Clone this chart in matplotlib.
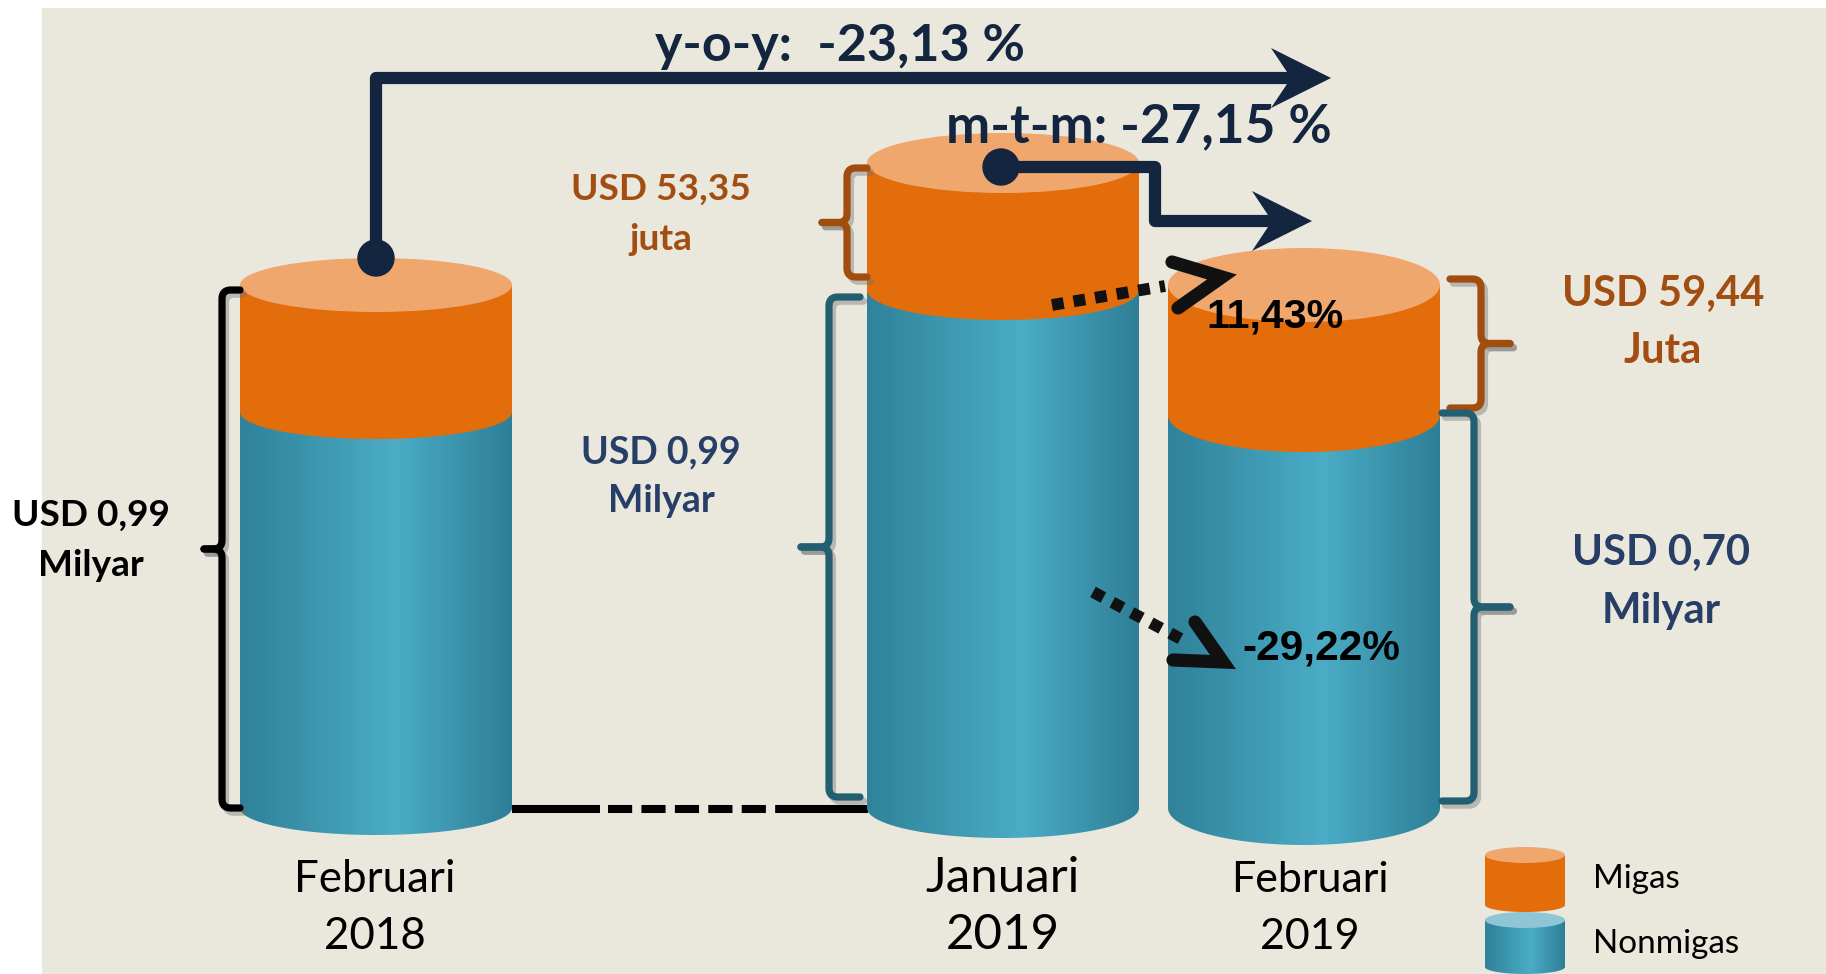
import numpy as np
import matplotlib
matplotlib.use('Agg')
import matplotlib.pyplot as plt
import matplotlib.patheffects as pe
from matplotlib.patches import Rectangle, Ellipse, Polygon, Circle
from matplotlib.colors import LinearSegmentedColormap

# data (labels as printed, heights as drawn in the picture)
months = ['Februari', 'Januari', 'Februari']
years = ['2018', '2019', '2019']
nonmigas_h = [396, 518, 393]
migas_h = [127, 127, 130]
migas_lbl = [None, ['USD 53,35', 'juta'], ['USD 59,44', 'Juta']]
nonmigas_lbl = [['USD 0,99', 'Milyar'], ['USD 0,99', 'Milyar'], ['USD 0,70', 'Milyar']]
yoy_txt = 'y-o-y:  -23,13 %'
mtm_txt = 'm-t-m: -27,15 %'
chg_migas = '11,43%'
chg_nonmigas = '-29,22%'
legend_lbl = ['Migas', 'Nonmigas']

BG = '#EAE7DD'
ORANGE = '#E36C0B'
ORANGE_LT = '#EFA76D'
TEAL_LT = '#8EC6D6'
NAVY = '#13253F'
BROWN = '#A04D0E'
BROWN_TXT = '#A24E12'
NAVY_TXT = '#273F66'
TEAL_BR = '#245F71'

teal_cmap = LinearSegmentedColormap.from_list(
    'teal', [(0, '#2F8299'), (0.57, '#4BACC6'), (1, '#2E7F96')])
grad = np.linspace(0, 1, 256).reshape(1, -1)

fig = plt.figure(figsize=(18.26, 9.74), dpi=100, facecolor='white')
ax = fig.add_axes([0, 0, 1, 1])
ax.set_xlim(0, 1826)
ax.set_ylim(974, 0)
ax.set_autoscale_on(False)
ax.axis('off')
rend = fig.canvas.get_renderer()

ax.add_patch(Rectangle((42, 8), 1784, 966, facecolor=BG, edgecolor='none', zorder=0))


def side(cx, a, ytop, ybot, b):
    t = np.linspace(np.pi, 0, 80)
    xs = np.concatenate([[cx - a], cx + a * np.cos(t), [cx + a]])
    ys = np.concatenate([[ytop], ybot + b * np.sin(t), [ytop]])
    return np.column_stack([xs, ys])


def teal_seg(cx, a, ytop, ybot, b, z=2):
    p = Polygon(side(cx, a, ytop, ybot, b), closed=True, facecolor='none',
                edgecolor='none', zorder=z)
    ax.add_patch(p)
    im = ax.imshow(grad, cmap=teal_cmap, extent=[cx - a, cx + a, ybot + b, ytop],
                   aspect='auto', interpolation='bilinear', zorder=z)
    im.set_clip_path(p)


def orange_seg(cx, a, ytop, ybot, b, z=3):
    ax.add_patch(Polygon(side(cx, a, ytop, ybot, b), closed=True,
                         facecolor=ORANGE, edgecolor='none', zorder=z))


# cylinders
cx = [376, 1003, 1304]
half = 136
base = 808
ry = [27, 30, 37]
tops, mids = [], []
for i in range(3):
    ymid = base - nonmigas_h[i]
    ytop = ymid - migas_h[i]
    mids.append(ymid)
    tops.append(ytop)
    teal_seg(cx[i], half, ymid, base, ry[i])
    orange_seg(cx[i], half, ytop, ymid, ry[i])
    ax.add_patch(Ellipse((cx[i], ytop), 2 * half, 2 * ry[i], facecolor=ORANGE_LT,
                         edgecolor='none', zorder=4))

# curly brackets
shadow = [pe.SimpleLineShadow(offset=(2.5, -3), shadow_color='#6f6f6f', alpha=0.4), pe.Normal()]


def rounded(pts, r=9):
    pts = np.asarray(pts, float)
    out = [pts[0]]
    for k in range(1, len(pts) - 1):
        A, P, B = pts[k - 1], pts[k], pts[k + 1]
        d1 = (A - P) / np.linalg.norm(A - P)
        d2 = (B - P) / np.linalg.norm(B - P)
        p1, p2 = P + r * d1, P + r * d2
        t = np.linspace(0, 1, 12)[:, None]
        out.extend((1 - t) ** 2 * p1 + 2 * (1 - t) * t * P + t ** 2 * p2)
    out.append(pts[-1])
    return np.array(out)


def bracket(xv, y0, y1, xh, xt, color):
    ym = (y0 + y1) / 2
    for ye in (y0, y1):
        line = rounded([(xh, ye), (xv, ye), (xv, ym), (xt, ym)])
        ax.plot(line[:, 0], line[:, 1], color=color, lw=5.2, solid_joinstyle='round',
                solid_capstyle='round', path_effects=shadow, zorder=5)


bracket(222, tops[0] + 5, base, 240, 204, 'black')
bracket(847, tops[1] + 5, mids[1] - 13, 867, 822, BROWN)
bracket(829, mids[1] + 7, base - 11, 860, 801, TEAL_BR)
bracket(1481, tops[2] - 6, mids[2] - 7, 1450, 1510, BROWN)
bracket(1474, mids[2] - 2, base - 7, 1442, 1510, TEAL_BR)

# base connector
ax.plot([512, 600], [809, 809], color='black', lw=5.8, solid_capstyle='butt', zorder=1)
ax.plot([608, 785], [809, 809], color='black', lw=5.8, ls=(0, (3, 1.15)),
        dash_capstyle='butt', zorder=1)
ax.plot([785, 868], [809, 809], color='black', lw=5.8, solid_capstyle='butt', zorder=1)


# navy arrows
def head(tip, d, L=60, W=30, notch=40, z=7):
    d = np.asarray(d, float)
    d /= np.linalg.norm(d)
    n = np.array([-d[1], d[0]])
    T = np.asarray(tip, float)
    ax.add_patch(Polygon([T, T - L * d + W * n, T - notch * d, T - L * d - W * n],
                         closed=True, facecolor=NAVY, edgecolor='none', zorder=z))
    return T - notch * d


end = head((1331, 78), (1, 0))
ax.plot([cx[0], cx[0], end[0] + 2], [tops[0] - 27, 78, 78], color=NAVY, lw=8.8,
        solid_joinstyle='round', solid_capstyle='butt', zorder=7)
ax.add_patch(Circle((cx[0], tops[0] - 27), 18, color=NAVY, zorder=7))

end = head((1312, 221), (1, 0))
ax.plot([cx[1], 1155, 1155, end[0] + 2], [167, 167, 221, 221], color=NAVY, lw=8.8,
        solid_joinstyle='round', solid_capstyle='butt', zorder=7)
ax.add_patch(Circle((cx[1] - 2, 167), 18, color=NAVY, zorder=7))


# dotted arrows
def dotted(x0, y0, x1, y1, tip, a1, a2):
    ax.plot([x0, x1], [y0, y1], color='#111111', lw=8.5, ls=(0, (1, 0.85)),
            dash_capstyle='butt', zorder=8)
    ax.plot([a1[0], tip[0], a2[0]], [a1[1], tip[1], a2[1]], color='#111111', lw=9.5,
            solid_joinstyle='miter', solid_capstyle='round', zorder=8)


dotted(1052, 305, 1165, 286, (1222, 277), (1172, 262), (1178, 308))
dotted(1093, 592, 1183, 640, (1223, 662), (1195, 622), (1173, 660))

# text
FONT = 'Lato'


def fit(x, y, s, width, ha='center', size0=30, **kw):
    t = ax.text(x, y, s, fontsize=size0, ha=ha, va='baseline', zorder=9, **kw)
    w = t.get_window_extent(renderer=rend).width
    t.set_fontsize(size0 * width / w)
    return t.get_fontsize()


def two_lines(x, y1, y2, lines, width, **kw):
    fs = fit(x, y1, lines[0], width, **kw)
    ax.text(x, y2, lines[1], fontsize=fs, ha='center', va='baseline', zorder=9, **kw)


fit(840, 61, yoy_txt, 369, family=FONT, weight='bold', color=NAVY)
fit(1139, 142, mtm_txt, 386, family=FONT, weight='bold', color=NAVY)

two_lines(661, 200, 250, migas_lbl[1], 179, family=FONT, weight='bold', color=BROWN_TXT)
two_lines(1663, 306, 363, migas_lbl[2], 202, family=FONT, weight='bold', color=BROWN_TXT)
two_lines(91, 526, 576, nonmigas_lbl[0], 158, family=FONT, weight='bold', color='black')
two_lines(661, 463, 512, nonmigas_lbl[1], 160, family=FONT, weight='bold', color=NAVY_TXT)
two_lines(1661, 565, 623, nonmigas_lbl[2], 178, family=FONT, weight='bold', color=NAVY_TXT)

fit(1275, 328, chg_migas, 137, family='Liberation Sans', weight='bold', color='black')
fit(1321, 660, chg_nonmigas, 157, family='Liberation Sans', weight='bold', color='black')

xl_w = [161, 154, 158]
xl_x = [375, 1003, 1310]
for i in range(3):
    two_lines(xl_x[i], 892, 949, [months[i], years[i]], xl_w[i], family=FONT, color='black')

# legend
lx, la = 1525, 40
orange_seg(lx, la, 855, 905, 7, z=3)
ax.add_patch(Ellipse((lx, 855), 2 * la, 16, facecolor=ORANGE_LT, edgecolor='none', zorder=4))
teal_seg(lx, la, 920, 967, 7, z=2)
ax.add_patch(Ellipse((lx, 920), 2 * la, 16, facecolor=TEAL_LT, edgecolor='none', zorder=4))
fs = fit(1593, 888, legend_lbl[0], 87, ha='left', family=FONT, color='black')
ax.text(1593, 953, legend_lbl[1], fontsize=fs, ha='left', va='baseline', family=FONT,
        color='black', zorder=9)

fig.savefig('out.png', dpi=100, facecolor='white')
